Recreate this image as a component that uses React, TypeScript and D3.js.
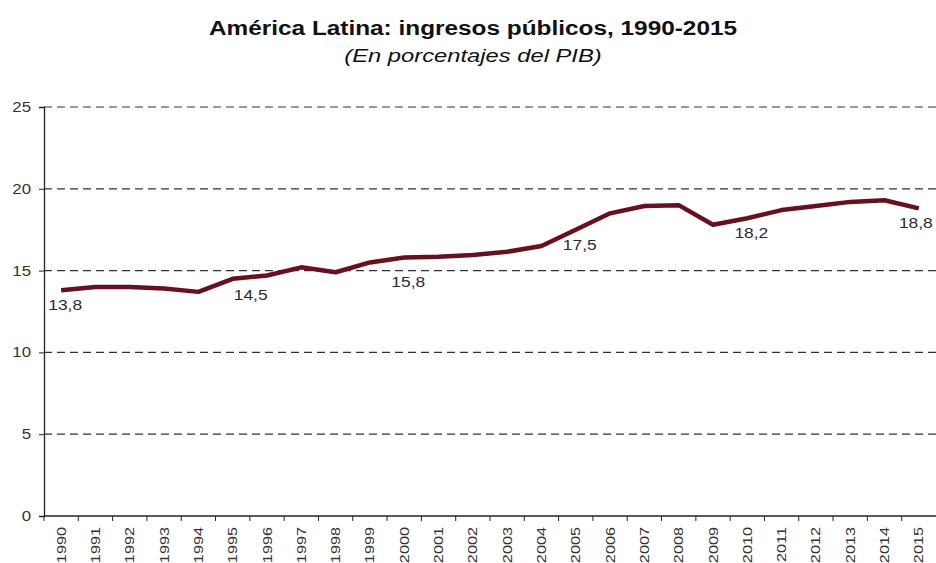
import { useEffect, useRef } from 'react'
import * as d3 from 'd3'

const years = ['1990','1991','1992','1993','1994','1995','1996','1997','1998','1999','2000','2001','2002','2003','2004','2005','2006','2007','2008','2009','2010','2011','2012','2013','2014','2015']
const ingresos = [13.8, 14.0, 14.0, 13.9, 13.7, 14.5, 14.7, 15.2, 14.9, 15.5, 15.8, 15.85, 15.95, 16.15, 16.5, 17.5, 18.5, 18.95, 19.0, 17.8, 18.2, 18.7, 18.95, 19.2, 19.3, 18.8]
const labeled = ['1990', '1995', '2000', '2005', '2010', '2015']
const yTicks = [0, 5, 10, 15, 20, 25]

const App = () => {
  const chart = useRef<SVGSVGElement>(null)

  useEffect(() => {
    const width = 936, height = 563
    const margin = { top: 107, right: 0, bottom: 47, left: 44 }
    const font = '"Liberation Sans", Arial, sans-serif'
    const sx = 1.2 // text in the original is a bit wider than Arial

    const svg = d3.select(chart.current)
    svg.selectAll('*').remove()
    svg.attr('width', width).attr('height', height)

    // title
    svg.append('text')
      .attr('transform', 'translate(473,35) scale(1.25,1)')
      .attr('text-anchor', 'middle')
      .style('font', 'bold 19.5px ' + font)
      .style('fill', '#111')
      .text('América Latina: ingresos públicos, 1990-2015')
    svg.append('text')
      .attr('transform', 'translate(473,62) scale(1.25,1)')
      .attr('text-anchor', 'middle')
      .style('font', 'italic 19px ' + font)
      .style('fill', '#111')
      .text('(En porcentajes del PIB)')

    const x = d3.scaleBand()
      .domain(years)
      .range([margin.left, width - margin.right])
    const y = d3.scaleLinear()
      .domain([0, 25])
      .range([height - margin.bottom, margin.top])

    // grid lines
    svg.append('g')
      .selectAll('line')
      .data(yTicks.filter(d => d > 0))
      .enter()
      .append('line')
      .attr('x1', margin.left).attr('x2', width)
      .attr('y1', d => y(d)).attr('y2', d => y(d))
      .style('stroke', '#333')
      .style('stroke-width', 1.2)
      .style('stroke-dasharray', '8,5')

    // y axis
    const yAxis = svg.append('g')
      .attr('transform', 'translate(' + margin.left + ',0)')
      .call(d3.axisLeft(y).tickValues(yTicks).tickSize(5).tickPadding(8))
    yAxis.select('.domain').style('stroke', '#222').style('stroke-width', 1.3)
    yAxis.selectAll('line').style('stroke', '#222')
    yAxis.selectAll('text')
      .attr('transform', function () {
        const t = d3.select(this)
        return 'translate(' + t.attr('x') + ',0) scale(' + sx + ',1)'
      })
      .attr('x', 0)
      .style('font', '14px ' + font)
      .style('fill', '#333')

    // x axis with ticks on the band edges
    const xg = svg.append('g')
      .attr('transform', 'translate(0,' + (height - margin.bottom) + ')')
    xg.append('line')
      .attr('x1', margin.left).attr('x2', width)
      .style('stroke', '#222').style('stroke-width', 1.3)
    xg.selectAll('.tk')
      .data(years)
      .enter()
      .append('line')
      .attr('x1', d => x(d)!).attr('x2', d => x(d)!)
      .attr('y1', 0).attr('y2', 5)
      .style('stroke', '#222')
    xg.selectAll('.lbl')
      .data(years)
      .enter()
      .append('text')
      .attr('transform', d => 'translate(' + (x(d)! + x.bandwidth() / 2 + 4.5) + ',11) rotate(-90) scale(1.3,1)')
      .attr('text-anchor', 'end')
      .style('font', '12.5px ' + font)
      .style('fill', '#333')
      .text(d => d)

    const data = years.map((d, i) => ({ year: d, value: ingresos[i] }))

    // line
    const line = d3.line<{ year: string, value: number }>()
      .x(d => x(d.year)! + x.bandwidth() / 2)
      .y(d => y(d.value))
    svg.append('path')
      .datum(data)
      .attr('d', line)
      .style('fill', 'none')
      .style('stroke', '#6b0f1f')
      .style('stroke-width', 4.5)
      .style('stroke-linejoin', 'round')

    // value labels, nudged like the hand-placed ones in the original
    const nudge = (yr: string) => {
      if (yr === '1995') return [18, 21]
      if (yr === '2000') return [4, 29]
      if (yr === '2015') return [-3, 20]
      return [4, 20]
    }
    svg.append('g')
      .selectAll('text')
      .data(data.filter(d => labeled.includes(d.year)))
      .enter()
      .append('text')
      .attr('transform', d => {
        const [dx, dy] = nudge(d.year)
        return 'translate(' + (x(d.year)! + x.bandwidth() / 2 + dx) + ',' + (y(d.value) + dy) + ') scale(' + sx + ',1)'
      })
      .attr('text-anchor', 'middle')
      .style('font', '14.5px ' + font)
      .style('fill', '#2a2a3a')
      .text(d => d3.format('.1f')(d.value).replace('.', ','))
  }, [])

  return (
    <svg ref={chart} style={{ position: 'absolute', left: 0, top: 0, background: '#fff' }}></svg>
  )
}

export default App
